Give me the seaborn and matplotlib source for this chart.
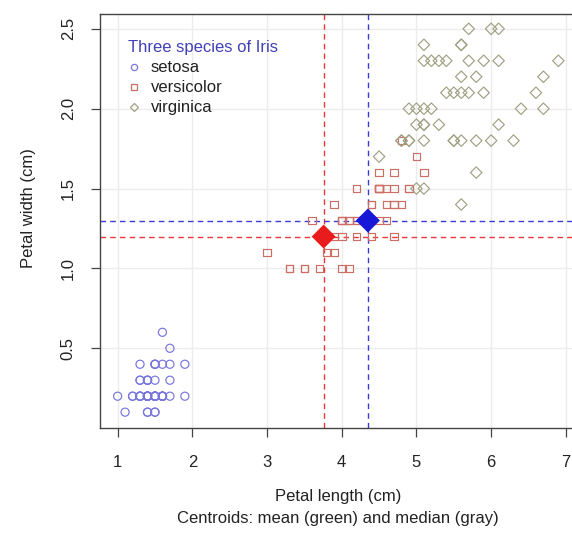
import numpy as np
import pandas as pd
import matplotlib
matplotlib.use("Agg")
import matplotlib.pyplot as plt
from matplotlib.lines import Line2D
import seaborn as sns

# Iris petal measurements (cm), by species
setosa_len = [1.4,1.4,1.3,1.5,1.4,1.7,1.4,1.5,1.4,1.5,1.5,1.6,1.4,1.1,1.2,1.5,1.3,1.4,1.7,1.5,
              1.7,1.5,1.0,1.7,1.9,1.6,1.6,1.5,1.4,1.6,1.6,1.5,1.5,1.4,1.5,1.2,1.3,1.4,1.3,1.5,
              1.3,1.3,1.3,1.6,1.9,1.4,1.6,1.4,1.5,1.4]
setosa_wid = [0.2,0.2,0.2,0.2,0.2,0.4,0.3,0.2,0.2,0.1,0.2,0.2,0.1,0.1,0.2,0.4,0.4,0.3,0.3,0.3,
              0.2,0.4,0.2,0.5,0.2,0.2,0.4,0.2,0.2,0.2,0.2,0.4,0.1,0.2,0.2,0.2,0.2,0.1,0.2,0.2,
              0.3,0.3,0.2,0.6,0.4,0.3,0.2,0.2,0.2,0.2]
versicolor_len = [4.7,4.5,4.9,4.0,4.6,4.5,4.7,3.3,4.6,3.9,3.5,4.2,4.0,4.7,3.6,4.4,4.5,4.1,4.5,3.9,
                  4.8,4.0,4.9,4.7,4.3,4.4,4.8,5.0,4.5,3.5,3.8,3.7,3.9,5.1,4.5,4.5,4.7,4.4,4.1,4.0,
                  4.4,4.6,4.0,3.3,4.2,4.2,4.2,4.3,3.0,4.1]
versicolor_wid = [1.4,1.5,1.5,1.3,1.5,1.3,1.6,1.0,1.3,1.4,1.0,1.5,1.0,1.4,1.3,1.4,1.5,1.0,1.5,1.1,
                  1.8,1.3,1.5,1.2,1.3,1.4,1.4,1.7,1.5,1.0,1.1,1.0,1.2,1.6,1.5,1.6,1.5,1.3,1.3,1.3,
                  1.2,1.4,1.2,1.0,1.3,1.2,1.3,1.3,1.1,1.3]
virginica_len = [6.0,5.1,5.9,5.6,5.8,6.6,4.5,6.3,5.8,6.1,5.1,5.3,5.5,5.0,5.1,5.3,5.5,6.7,6.9,5.0,
                 5.7,4.9,6.7,4.9,5.7,6.0,4.8,4.9,5.6,5.8,6.1,6.4,5.6,5.1,5.6,6.1,5.6,5.5,4.8,5.4,
                 5.6,5.1,5.1,5.9,5.7,5.2,5.0,5.2,5.4,5.1]
virginica_wid = [2.5,1.9,2.1,1.8,2.2,2.1,1.7,1.8,1.8,2.5,2.0,1.9,2.1,2.0,2.4,2.3,1.8,2.2,2.3,1.5,
                 2.3,2.0,2.0,1.8,2.1,1.8,1.8,1.8,2.1,1.6,1.9,2.0,2.2,1.5,1.4,2.3,2.4,1.8,1.8,2.1,
                 2.4,2.3,1.9,2.3,2.5,2.3,1.9,2.0,2.3,1.8]

species = ["setosa", "versicolor", "virginica"]
x_ticks = [1, 2, 3, 4, 5, 6, 7]
y_ticks = [0.5, 1.0, 1.5, 2.0, 2.5]

df = pd.DataFrame({
    "length": setosa_len + versicolor_len + virginica_len,
    "width": setosa_wid + versicolor_wid + virginica_wid,
    "species": ["setosa"] * 50 + ["versicolor"] * 50 + ["virginica"] * 50,
})

colors = {"setosa": "#7676dc", "versicolor": "#cc6e64", "virginica": "#a0a082"}
markers = {"setosa": "o", "versicolor": "s", "virginica": "D"}
sizes = {"setosa": 34, "versicolor": 30, "virginica": 34}

FS = 12
sns.set_theme(style="white")
plt.rcParams["font.family"] = ["Liberation Sans", "DejaVu Sans"]

fig = plt.figure(figsize=(5.72, 5.34), dpi=100)
ax = fig.add_axes([100 / 572, (534 - 427.5) / 534, 476 / 572, (427.5 - 13.5) / 534])

# data range padded 4% on each side
xmin, xmax = df["length"].min(), df["length"].max()
ymin, ymax = df["width"].min(), df["width"].max()
px, py = 0.04 * (xmax - xmin), 0.04 * (ymax - ymin)
ax.set_xlim(xmin - px, xmax + px)
ax.set_ylim(ymin - py, ymax + py)

# light background grid
for t in x_ticks:
    ax.axvline(t, color="#ececec", lw=1, zorder=0)
for t in y_ticks:
    ax.axhline(t, color="#ececec", lw=1, zorder=0)

for sp in species:
    sub = df[df["species"] == sp]
    n_before = len(ax.collections)
    sns.scatterplot(data=sub, x="length", y="width", marker=markers[sp],
                    s=sizes[sp], color=colors[sp], linewidth=0.85, ax=ax,
                    legend=False, zorder=3)
    for coll in ax.collections[n_before:]:
        coll.set_facecolor("none")
        coll.set_edgecolor(colors[sp])

# centroids: mean (red) and median (blue)
mean_x, mean_y = df["length"].mean(), df["width"].mean()
med_x, med_y = df["length"].median(), df["width"].median()
ax.axvline(mean_x, color="#e8383d", ls=(0, (4, 3)), lw=1, zorder=2)
ax.axhline(mean_y, color="#e8383d", ls=(0, (4, 3)), lw=1, zorder=2)
ax.axvline(med_x, color="#3a3ad8", ls=(0, (4, 3)), lw=1, zorder=2)
ax.axhline(med_y, color="#3a3ad8", ls=(0, (4, 3)), lw=1, zorder=2)
centroids = pd.DataFrame({"x": [mean_x, med_x], "y": [mean_y, med_y], "kind": ["mean", "median"]})
sns.scatterplot(data=centroids, x="x", y="y", hue="kind", palette=["#e81c1c", "#1818d8"],
                marker="D", s=150, linewidth=0, ax=ax, legend=False, zorder=5)

ax.set_xticks(x_ticks)
ax.set_yticks(y_ticks)
ax.set_xticklabels([str(t) for t in x_ticks])
ax.set_yticklabels([f"{t:.1f}" for t in y_ticks], rotation=90, va="center")
ax.tick_params(axis="both", which="both", direction="out", length=6.5, width=0.9,
               color="#444444", labelsize=FS, labelcolor="#222222",
               bottom=True, left=True)
ax.tick_params(axis="x", pad=13)
ax.tick_params(axis="y", pad=11)
for side in ["left", "bottom", "top", "right"]:
    ax.spines[side].set_color("#444444")
    ax.spines[side].set_linewidth(1)

ax.set_xlabel("")
ax.set_ylabel("")
fig.text(28 / 572, 1 - 208 / 534, "Petal width (cm)", rotation=90, ha="center", va="center",
         fontsize=FS, color="#222222")
fig.text(338 / 572, 1 - 497 / 534, "Petal length (cm)", ha="center", va="center",
         fontsize=FS, color="#222222")
fig.text(338 / 572, 1 - 518 / 534, "Centroids: mean (green) and median (gray)", ha="center",
         va="center", fontsize=FS, color="#222222")

handles = [Line2D([], [], ls="none", marker=markers[sp], markersize=4.5,
                  markerfacecolor="none", markeredgecolor=colors[sp], markeredgewidth=0.9)
           for sp in species]
leg = ax.legend(handles, species, title="Three species of Iris", loc="upper left",
                bbox_to_anchor=(0.058, 0.935), frameon=False, fontsize=FS,
                title_fontsize=FS, handlelength=0.8, handletextpad=0.6,
                labelspacing=0.3, alignment="left", borderaxespad=0, borderpad=0)
leg.get_title().set_color("#4040b8")
for txt in leg.get_texts():
    txt.set_color("#222222")

fig.savefig("out.png", dpi=100)
